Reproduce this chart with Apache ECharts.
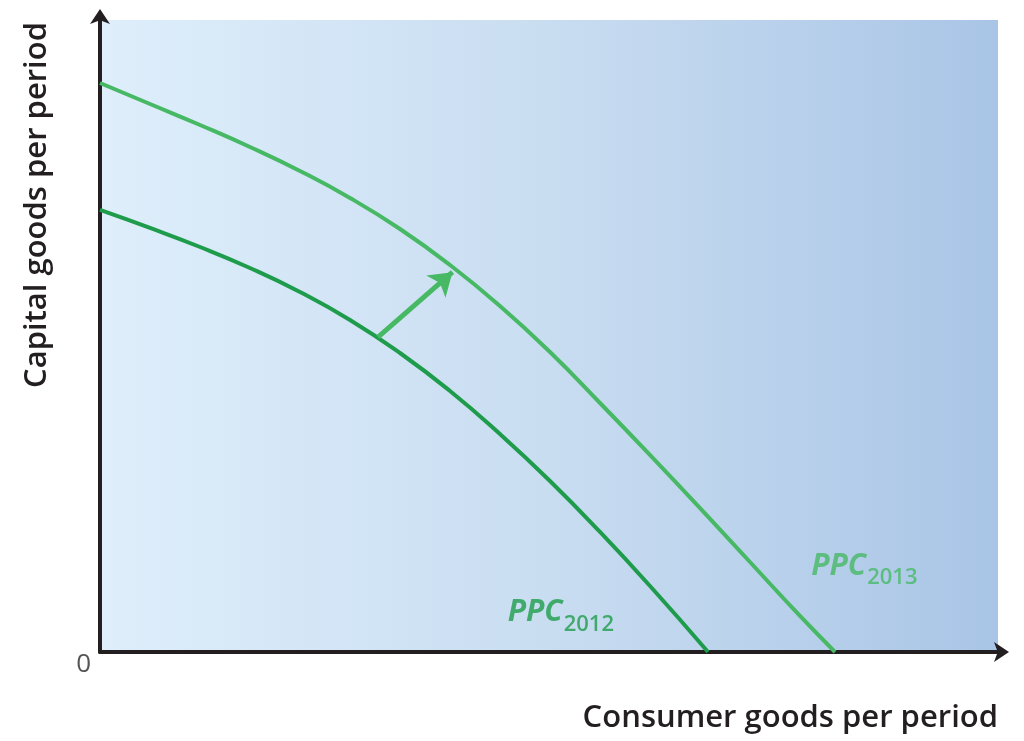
<!DOCTYPE html>
<html>
<head>
<meta charset="utf-8">
<script src="https://cdn.jsdelivr.net/npm/echarts@6/dist/echarts.min.js"></script>
<style>html,body{margin:0;padding:0;background:#fff}#c{width:1024px;height:741px}</style>
</head>
<body>
<div id="c"></div>
<script>
// Data (abstract units, 0..100 on both axes)
const ppc2013 = [[0,90.03],[5.57,86.71],[11.14,83.39],[16.70,79.91],[22.27,76.11],[27.84,71.84],[33.41,66.93],[38.98,61.23],[44.54,54.75],[50.11,47.47],[55.68,39.40],[61.25,31.17],[66.82,22.78],[72.38,14.24],[77.95,5.70],[81.85,0]];
const ppc2012 = [[0,69.94],[5.57,67.09],[11.14,64.08],[16.70,60.76],[22.27,56.96],[27.84,52.53],[33.41,47.31],[38.98,41.30],[44.54,34.49],[50.11,27.06],[55.68,18.99],[61.25,10.44],[67.71,0]];
const shiftArrow = [[30.96,49.84],[39.25,60.1]];
const seriesNames = ['PPC', 'PPC'];
const years = ['2012', '2013'];
const labelPos = [[45.4,3.9],[79.2,11.2]];
const xTitle = 'Consumer goods per period';
const yTitle = 'Capital goods per period';
const originLabel = '0';

const dark = '#1e9c4b', light = '#47b965';
const font = 'Open Sans';
const chart = echarts.init(document.getElementById('c'));

function lbl(i, color){
  return {
    type:'scatter', data:[labelPos[i]], symbolSize:0, silent:true,
    label:{show:true, position:'inside', align:'left', verticalAlign:'bottom',
      formatter:'{a|'+seriesNames[i]+'}{b|'+years[i]+'}',
      rich:{
        a:{fontFamily:font, fontSize:30, fontStyle:'italic', fontWeight:'bold', color:color, verticalAlign:'bottom'},
        b:{fontFamily:font, fontSize:22, fontWeight:600, color:color, verticalAlign:'bottom', padding:[0,0,-8,1]}
      }}
  };
}

chart.setOption({
  animation:false,
  grid:{left:100, top:20, width:898, height:632, show:true, borderWidth:0,
    backgroundColor:new echarts.graphic.LinearGradient(0,0,1,0,[
      {offset:0,color:'#deeefb'},{offset:0.5,color:'#c9ddf1'},{offset:1,color:'#a9c5e6'}])},
  xAxis:{type:'value', min:0, max:100, splitLine:{show:false}, axisTick:{show:false}, axisLabel:{show:false},
    axisLine:{onZero:false, lineStyle:{color:'#231f20', width:4}, symbol:['none','arrow'], symbolSize:[15,15], symbolOffset:[0,11]}},
  yAxis:{type:'value', min:0, max:100, splitLine:{show:false}, axisTick:{show:false},
    axisLabel:{show:true, formatter:v=>v===0?originLabel:'', verticalAlign:'top', margin:9, fontFamily:font, fontSize:26, color:'#555'},
    axisLine:{onZero:false, lineStyle:{color:'#231f20', width:4}, symbol:['none','arrow'], symbolSize:[15,15], symbolOffset:[0,11]}},
  graphic:[
    {type:'text', x:998, y:718, style:{text:xTitle, align:'right', verticalAlign:'middle', font:'600 31px "Open Sans"', fill:'#231f20'}},
    {type:'text', x:37, y:205, rotation:Math.PI/2, style:{text:yTitle, align:'center', verticalAlign:'middle', font:'600 31px "Open Sans"', fill:'#231f20'}}
  ],
  series:[
    {type:'line', data:ppc2012, smooth:0.5, showSymbol:false, lineStyle:{color:dark, width:4}, z:3},
    {type:'line', data:ppc2013, smooth:0.5, showSymbol:false, lineStyle:{color:light, width:4}, z:3},
    {type:'lines', coordinateSystem:'cartesian2d', data:[{coords:shiftArrow}], symbol:['none','arrow'], symbolSize:22,
      lineStyle:{color:light, width:5, opacity:1}, z:4},
    lbl(0, dark), lbl(1, light)
  ]
});
</script>
</body>
</html>
